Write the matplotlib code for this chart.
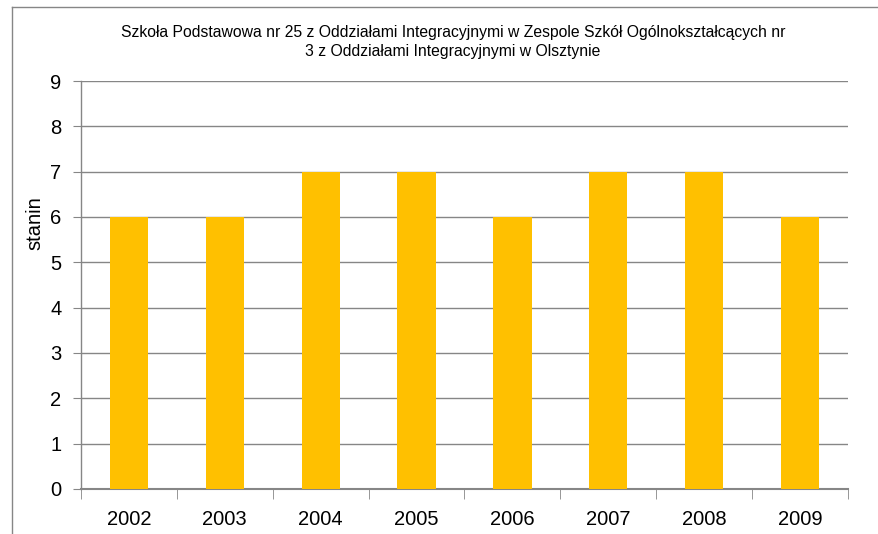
import matplotlib
matplotlib.use("Agg")
import matplotlib.pyplot as plt
from matplotlib.lines import Line2D

years = ["2002", "2003", "2004", "2005", "2006", "2007", "2008", "2009"]
stanin = [6, 6, 7, 7, 6, 7, 7, 6]
title = ("Szkoła Podstawowa nr 25 z Oddziałami Integracyjnymi w Zespole Szkół Ogólnokształcących nr\n"
         "3 z Oddziałami Integracyjnymi w Olsztynie")

plt.rcParams['font.family'] = ['Liberation Sans', 'DejaVu Sans']

fig = plt.figure(figsize=(8.79, 5.34), dpi=100)
ax = fig.add_axes([81/879, 45/534, 767/879, 408/534])

x = list(range(len(years)))
ax.bar(x, stanin, width=0.4, color="#FFC000", zorder=3)
ax.set_xlim(-0.5, len(years) - 0.5)
ax.set_ylim(0, 9)
ax.set_yticks(range(10))
ax.set_xticks(x)
ax.set_xticklabels(years)
ax.tick_params(axis='x', length=0, labelsize=14.5, pad=15)
ax.tick_params(axis='y', length=6, color="#868686", labelsize=14.5, pad=8)
ax.set_xticks([i - 0.5 for i in range(len(years) + 1)], minor=True)
ax.tick_params(axis='x', which='minor', length=7, color="#868686", direction='out')
ax.yaxis.grid(True, color="#868686", linewidth=1.0, zorder=0)
for s in ['top', 'right']:
    ax.spines[s].set_visible(False)
for s in ['left', 'bottom']:
    ax.spines[s].set_color("#868686")
    ax.spines[s].set_linewidth(1.0)
ax.spines['bottom'].set_linewidth(1.5)
ax.set_ylabel("stanin", fontsize=14.5)
ax.yaxis.set_label_coords(-37/767, (489 - 223) / 408)

fig.text(453/879, 1 - 42/534, title, ha='center', va='center', fontsize=11.3, linespacing=1.3)

# outer chart border (left and top visible)
fig.add_artist(Line2D([12/879, 12/879], [0, 1 - 7/534], color="#868686", linewidth=1.0))
fig.add_artist(Line2D([12/879, 1], [1 - 7/534, 1 - 7/534], color="#868686", linewidth=1.0))

fig.savefig("out.png", dpi=100)
